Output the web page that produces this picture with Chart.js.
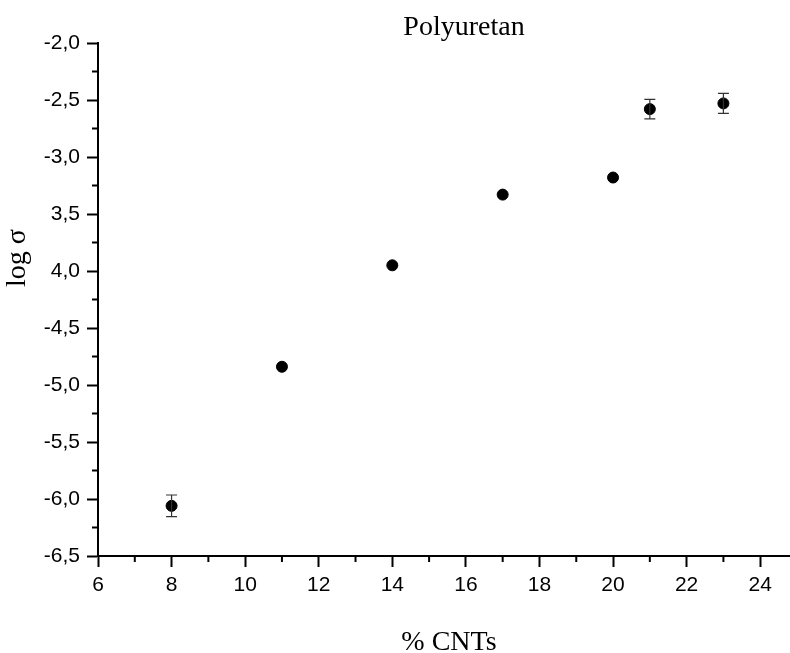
<!DOCTYPE html>
<html>
<head>
<meta charset="utf-8">
<script src="https://cdn.jsdelivr.net/npm/chart.js@4.4.1/dist/chart.umd.min.js"></script>
<style>
  html, body { margin: 0; padding: 0; background: #fff; }
  #chart { display: block; }
</style>
</head>
<body>
<canvas id="chart" width="790" height="653"></canvas>
<script>
// ---------------- Datos ----------------
const cntPercent = [8, 11, 14, 17, 20, 21, 23];
const logSigma = [-6.06, -4.84, -3.95, -3.33, -3.18, -2.58, -2.53];
const logSigmaErr = [0.095, 0, 0, 0, 0, 0.085, 0.088];

const xTickLabels = ['6', '8', '10', '12', '14', '16', '18', '20', '22', '24'];
const yTickLabels = ['-6,5', '-6,0', '-5,5', '-5,0', '-4,5', '4,0', '3,5', '-3,0', '-2,5', '-2,0'];

const titleText = 'Polyuretan';
const xTitleText = '% CNTs';
const yTitleText = 'log σ';

// ---------------- Plugins ----------------

// minor ticks + error bars + textos
const extrasPlugin = {
    id: 'extras',
    afterDatasetsDraw(chart) {
        const { ctx, scales: { x, y } } = chart;
        ctx.save();

        // barras de error
        ctx.strokeStyle = '#333';
        ctx.lineWidth = 1.2;
        cntPercent.forEach((cx, i) => {
            if (!logSigmaErr[i]) return;
            const px = x.getPixelForValue(cx);
            const top = y.getPixelForValue(logSigma[i] + logSigmaErr[i]);
            const bot = y.getPixelForValue(logSigma[i] - logSigmaErr[i]);
            ctx.beginPath();
            ctx.moveTo(px, top); ctx.lineTo(px, bot);
            ctx.moveTo(px - 5.5, top); ctx.lineTo(px + 5.5, top);
            ctx.moveTo(px - 5.5, bot); ctx.lineTo(px + 5.5, bot);
            ctx.stroke();
        });
        ctx.restore();
    },
    afterDraw(chart) {
        const { ctx, scales: { x, y } } = chart;
        ctx.save();
        ctx.strokeStyle = '#000';
        ctx.lineWidth = 2;

        // ticks menores
        x.ticks.forEach(t => {
            if (t.value % 2 === 0) return;
            const px = x.getPixelForValue(t.value);
            ctx.beginPath();
            ctx.moveTo(px, y.bottom);
            ctx.lineTo(px, y.bottom + 6);
            ctx.stroke();
        });
        y.ticks.forEach(t => {
            if (Math.round(t.value * 4) % 2 === 0) return;
            const py = y.getPixelForValue(t.value);
            ctx.beginPath();
            ctx.moveTo(x.left, py);
            ctx.lineTo(x.left - 6, py);
            ctx.stroke();
        });

        // textos
        ctx.fillStyle = '#000';
        ctx.font = '28px "Liberation Serif", "Times New Roman", serif';
        ctx.textAlign = 'center';
        ctx.textBaseline = 'alphabetic';
        ctx.fillText(titleText, 464, 35);
        ctx.fillText(xTitleText, 449, 650);

        ctx.translate(18, 258);
        ctx.rotate(-Math.PI / 2);
        ctx.textBaseline = 'middle';
        ctx.fillText(yTitleText, 0, 0);
        ctx.restore();
    }
};

// ---------------- Gráfica ----------------

const tickFont = { family: '"Liberation Sans", Arial, sans-serif', size: 21 };

new Chart(document.getElementById('chart'), {
    type: 'scatter',
    data: {
        datasets: [{
            data: cntPercent.map((v, i) => ({ x: v, y: logSigma[i] })),
            backgroundColor: '#000',
            borderColor: '#000',
            pointRadius: 5.5,
            pointHoverRadius: 5.5
        }]
    },
    options: {
        responsive: false,
        animation: false,
        layout: { autoPadding: false, padding: { top: 43, right: 0, left: 0, bottom: 0 } },
        plugins: {
            legend: { display: false },
            tooltip: { enabled: false }
        },
        scales: {
            x: {
                type: 'linear',
                min: 6,
                max: 24.81,
                afterBuildTicks: scale => {
                    scale.ticks = scale.ticks.filter(t => Number.isInteger(t.value));
                },
                afterFit: scale => {
                    scale.height = 97;
                    scale.paddingRight = 0;
                },
                ticks: {
                    stepSize: 1,
                    includeBounds: false,
                    autoSkip: false,
                    maxRotation: 0,
                    color: '#000',
                    font: tickFont,
                    padding: 6,
                    callback: v => (v % 2 === 0 ? xTickLabels[(v - 6) / 2] : '')
                },
                grid: {
                    drawOnChartArea: false,
                    tickLength: 11,
                    tickWidth: 2,
                    color: c => (c.tick && c.tick.value % 2 === 0 ? '#000' : 'rgba(0,0,0,0)')
                },
                border: { color: '#000', width: 2 }
            },
            y: {
                min: -6.5,
                max: -2.0,
                afterFit: scale => { scale.width = 98; },
                afterBuildTicks: scale => {
                    scale.ticks = scale.ticks.filter(t => Math.abs(t.value * 4 - Math.round(t.value * 4)) < 1e-6);
                },
                ticks: {
                    stepSize: 0.25,
                    autoSkip: false,
                    color: '#000',
                    font: tickFont,
                    padding: 7,
                    callback: v => {
                        const k = Math.round((v + 6.5) * 4);
                        return k % 2 === 0 ? yTickLabels[k / 2] : '';
                    }
                },
                grid: {
                    drawOnChartArea: false,
                    tickLength: 11,
                    tickWidth: 2,
                    color: c => (c.tick && Math.round(c.tick.value * 4) % 2 === 0 ? '#000' : 'rgba(0,0,0,0)')
                },
                border: { color: '#000', width: 2 }
            }
        }
    },
    plugins: [extrasPlugin]
});
</script>
</body>
</html>
